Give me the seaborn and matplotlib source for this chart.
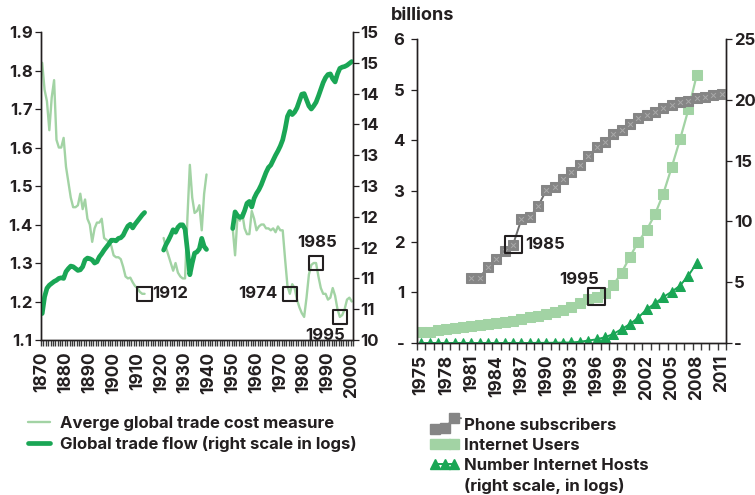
import numpy as np
import pandas as pd
import matplotlib
matplotlib.use("Agg")
import matplotlib.pyplot as plt
import seaborn as sns
from matplotlib.lines import Line2D
from matplotlib.legend_handler import HandlerLine2D

# ---------------- data: left panel (trade costs vs trade flow) ----------------
cost_1870 = [1.82, 1.75, 1.72, 1.645, 1.73, 1.775, 1.62, 1.60, 1.60, 1.625,
             1.55, 1.51, 1.47, 1.445, 1.445, 1.45, 1.48, 1.44, 1.465, 1.415,
             1.40, 1.355, 1.39, 1.405, 1.405, 1.415, 1.365, 1.36, 1.355, 1.345,
             1.32, 1.315, 1.315, 1.31, 1.29, 1.265, 1.26, 1.262, 1.25, 1.24,
             1.235, 1.225, 1.22, 1.22]                                   # 1870-1913
cost_1921 = [1.365, 1.34, 1.32, 1.30, 1.28, 1.30, 1.275, 1.265, 1.26, 1.26,
             1.42, 1.555, 1.47, 1.43, 1.435, 1.45, 1.385, 1.48, 1.53]    # 1921-1939
cost_1950 = [1.39, 1.32, 1.42, 1.41, 1.43, 1.39, 1.375, 1.375, 1.435, 1.415,
             1.385, 1.395, 1.40, 1.40, 1.39, 1.39, 1.385, 1.39, 1.38, 1.395,
             1.385, 1.385, 1.31, 1.24, 1.22, 1.245, 1.235, 1.205, 1.185, 1.17,
             1.16, 1.21, 1.27, 1.295, 1.30, 1.30, 1.265, 1.235, 1.22, 1.22,
             1.205, 1.21, 1.235, 1.215, 1.18, 1.16, 1.165, 1.18, 1.205, 1.21,
             1.20]                                                       # 1950-2000

flow_1870 = [10.43, 10.70, 10.84, 10.89, 10.92, 10.95, 10.97, 11.00, 11.01, 11.00,
             11.11, 11.16, 11.20, 11.19, 11.16, 11.13, 11.14, 11.19, 11.30, 11.33,
             11.32, 11.30, 11.25, 11.27, 11.35, 11.40, 11.46, 11.51, 11.56, 11.62,
             11.62, 11.61, 11.65, 11.66, 11.70, 11.78, 11.85, 11.88, 11.82, 11.88,
             11.93, 11.98, 12.03, 12.07]                                 # 1870-1913
flow_1921 = [11.46, 11.55, 11.62, 11.70, 11.79, 11.75, 11.83, 11.87, 11.87, 11.80,
             11.45, 11.06, 11.25, 11.41, 11.43, 11.48, 11.65, 11.52, 11.47]  # 1921-1939
flow_1950 = [11.81, 12.08, 12.02, 11.99, 12.00, 12.10, 12.22, 12.25, 12.16, 12.30,
             12.38, 12.44, 12.52, 12.62, 12.72, 12.80, 12.84, 12.92, 13.00, 13.07,
             13.15, 13.25, 13.42, 13.63, 13.71, 13.66, 13.70, 13.77, 13.88, 13.99,
             14.00, 13.90, 13.80, 13.75, 13.80, 13.86, 13.96, 14.07, 14.18, 14.26,
             14.31, 14.32, 14.24, 14.19, 14.32, 14.41, 14.43, 14.44, 14.46, 14.49,
             14.52]                                                      # 1950-2000

seg_starts = [1870, 1921, 1950]
left_marked = [1913, 1974, 1985, 1995]
left_marked_text = ["1912", "1974", "1985", "1995"]
flow_tick_labels = ["10", "11", "11", "12", "12", "13", "13", "14", "14", "15", "15"]

# ---------------- data: right panel (billions) ----------------
phone_start = 1981
phone = [1.276, 1.29, 1.505, 1.65, 1.82, 1.94, 2.44, 2.48, 2.70, 3.02,
         3.08, 3.23, 3.38, 3.51, 3.69, 3.86, 3.97, 4.12, 4.21, 4.33,
         4.44, 4.50, 4.56, 4.63, 4.69, 4.76, 4.78, 4.83, 4.86, 4.89, 4.92]   # 1981-2011
net_start = 1975
users = [0.22, 0.225, 0.256, 0.27, 0.30, 0.32, 0.34, 0.36, 0.38, 0.40,
         0.42, 0.44, 0.47, 0.51, 0.53, 0.57, 0.61, 0.65, 0.72, 0.795,
         0.86, 0.91, 0.99, 1.14, 1.39, 1.70, 2.00, 2.23, 2.54, 2.95,
         3.47, 4.02, 4.61, 5.29]                                         # 1975-2008
hosts = [0.0, 0.0, 0.0, 0.0, 0.0, 0.0, 0.0, 0.0, 0.0, 0.0,
         0.0, 0.0, 0.0, 0.0, 0.01, 0.01, 0.02, 0.03, 0.04, 0.10,
         0.20, 0.30, 0.47, 0.74, 1.14, 1.56, 2.09, 2.77, 3.26, 3.78,
         4.22, 4.72, 5.55, 6.58]                                         # 1975-2008
right_marked = [1986, 1996]
right_marked_text = ["1985", "1995"]

LIGHT = "#a2d3a4"
DARK = "#1aa655"
GREY = "#6e6e6e"
MARK = "#858585"
INK = "#231f20"
FONT = ["Inter", "DejaVu Sans"]

# ---------------- frames ----------------
rows = []
for start, c, f in zip(seg_starts, [cost_1870, cost_1921, cost_1950],
                       [flow_1870, flow_1921, flow_1950]):
    for i in range(len(c)):
        rows.append({"year": start + i, "seg": start, "cost": c[i], "flow": f[i]})
trade = pd.DataFrame(rows)

phone_df = pd.DataFrame({"year": np.arange(phone_start, phone_start + len(phone)), "v": phone})
net_df = pd.DataFrame({"year": np.arange(net_start, net_start + len(users)),
                       "users": users, "hosts": hosts})

sns.set_style("ticks")
plt.rcParams["font.family"] = FONT
plt.rcParams["font.weight"] = "bold"
plt.rcParams["text.color"] = INK
plt.rcParams["axes.edgecolor"] = INK
plt.rcParams["xtick.color"] = INK
plt.rcParams["ytick.color"] = INK

fig = plt.figure(figsize=(7.55, 4.95), dpi=100)


def style_axes(a, ar, years, step, tick_frac):
    # labels every `step` years, a short hatch mark for every year
    for ax in (a, ar):
        ax.set_xlabel("")
        ax.set_ylabel("")
        ax.spines["top"].set_visible(False)
        for s in ax.spines.values():
            s.set_linewidth(1.0)
    labelled = [y for y in years if (y - years[0]) % step == 0]
    a.set_xticks(labelled)
    a.set_xticklabels([str(y) for y in labelled])
    a.tick_params(axis="x", bottom=True, length=0, pad=8.5, labelsize=12.5, rotation=90)
    a.vlines(np.array(years) - 0.5, -tick_frac, 0, transform=a.get_xaxis_transform(),
             clip_on=False, color="#3a3a3a", lw=1.0, zorder=10)
    a.tick_params(axis="y", left=True, length=4, width=0.9, labelsize=12)
    ar.tick_params(axis="y", right=True, length=4, width=0.9, labelsize=12)
    ar.xaxis.set_visible(False)


# ---------------- left panel ----------------
ax1 = fig.add_axes([0.0543, 0.3131, 0.4132, 0.6222])
ax1r = ax1.twinx()
sns.lineplot(data=trade, x="year", y="cost", units="seg", estimator=None,
             color=LIGHT, lw=1.7, ax=ax1, legend=False)
sns.lineplot(data=trade, x="year", y="flow", units="seg", estimator=None,
             color=DARK, lw=3.4, ax=ax1r, legend=False)

cost_lookup = dict(zip(trade["year"], trade["cost"]))
box_df = pd.DataFrame({"year": left_marked, "v": [cost_lookup[y] for y in left_marked]})
sns.scatterplot(data=box_df, x="year", y="v", marker="s", s=110, facecolor="none",
                edgecolor=INK, linewidth=1.5, ax=ax1, zorder=5, legend=False)
offsets = [((8, 0), "left", "center"), ((-12, 0), "right", "center"),
           ((1, 13), "center", "bottom"), ((-15, -11), "center", "top")]
for yr, txt, (off, ha, va) in zip(left_marked, left_marked_text, offsets):
    ax1.annotate(txt, (yr, cost_lookup[yr]), xytext=off, textcoords="offset pixels",
                 ha=ha, va=va, fontsize=12, fontweight="bold", zorder=6)

ax1.set_xlim(1869.5, 2000.5)
ax1.set_ylim(1.1, 1.9)
ax1r.set_ylim(10, 15)
ax1.set_yticks(np.arange(1.1, 1.91, 0.1))
ax1.set_yticklabels([f"{v:.1f}" for v in np.arange(1.1, 1.91, 0.1)])
ax1r.set_yticks(np.arange(10, 15.01, 0.5))
ax1r.set_yticklabels(flow_tick_labels)
style_axes(ax1, ax1r, list(range(1870, 2002)), 10, 6 / 308)
ax1.tick_params(axis="y", pad=2)
ax1r.tick_params(axis="y", pad=1)

# ---------------- right panel ----------------
ax2 = fig.add_axes([0.5523, 0.3071, 0.4093, 0.6141])
ax2r = ax2.twinx()
sns.lineplot(data=phone_df, x="year", y="v", color=GREY, lw=1.4, marker="s", markersize=6.5,
             markerfacecolor=MARK, markeredgecolor=MARK, ax=ax2, zorder=3)
sns.scatterplot(data=phone_df, x="year", y="v", marker="x", s=12, color="#a9a9a9",
                linewidth=0.7, ax=ax2, zorder=4, legend=False)
sns.lineplot(data=net_df, x="year", y="users", color=LIGHT, lw=1.6, marker="s", markersize=7,
             markerfacecolor=LIGHT, markeredgecolor=LIGHT, ax=ax2, zorder=2)
sns.lineplot(data=net_df, x="year", y="hosts", color=DARK, lw=1.4, marker="^", markersize=6.5,
             markerfacecolor=DARK, markeredgecolor=DARK, ax=ax2r, zorder=2)

phone_lookup = dict(zip(phone_df["year"], phone_df["v"]))
users_lookup = dict(zip(net_df["year"], net_df["users"]))
rbox = pd.DataFrame({"year": right_marked,
                     "v": [phone_lookup[right_marked[0]], users_lookup[right_marked[1]]]})
sns.scatterplot(data=rbox, x="year", y="v", marker="s", s=150, facecolor="none",
                edgecolor=INK, linewidth=1.5, ax=ax2, zorder=6, legend=False)
ax2.annotate(right_marked_text[0], (right_marked[0], rbox["v"][0]), xytext=(12, 0),
             textcoords="offset pixels", ha="left", va="center", fontsize=12, fontweight="bold")
ax2.annotate(right_marked_text[1], (right_marked[1], rbox["v"][1]), xytext=(-17, 10),
             textcoords="offset pixels", ha="center", va="bottom", fontsize=12, fontweight="bold")

ax2.set_xlim(1974.5, 2011.5)
ax2.set_ylim(0, 6)
ax2r.set_ylim(0, 25)
ax2.set_yticks(range(0, 7))
ax2.set_yticklabels(["-"] + [str(i) for i in range(1, 7)])
ax2r.set_yticks(range(0, 26, 5))
ax2r.set_yticklabels(["-"] + [str(i) for i in range(5, 26, 5)])
style_axes(ax2, ax2r, list(range(1975, 2013)), 3, 7 / 304)
ax2.tick_params(axis="y", pad=5)
ax2r.tick_params(axis="y", pad=2)

fig.text(391 / 755, 1 - 20 / 495, "billions", fontsize=13, fontweight="bold", va="baseline")

# ---------------- legends ----------------
h_cost = Line2D([], [], color=LIGHT, lw=1.7)
h_flow = Line2D([], [], color=DARK, lw=3.4)
fig.legend([h_cost, h_flow],
           ["Averge global trade cost measure", "Global trade flow (right scale in logs)"],
           loc="upper left", bbox_to_anchor=(28 / 755, 1 - 416 / 495), frameon=False,
           fontsize=12, handlelength=1.32, handletextpad=0.6, labelspacing=0.3,
           borderpad=0, borderaxespad=0)


class RisingHandler(HandlerLine2D):
    # phone handle climbs to the right, like the series
    def create_artists(self, legend, orig_handle, xdescent, ydescent, width, height,
                       fontsize, trans):
        arts = super().create_artists(legend, orig_handle, xdescent, ydescent, width,
                                      height, fontsize, trans)
        for a in arts:
            x = np.asarray(a.get_xdata(), dtype=float)
            y = np.asarray(a.get_ydata(), dtype=float)
            a.set_data(np.append(x, x[-1] + 5), np.append(y + np.array([-3.5, -3.0, 4.5]), 8.5))
            a.set_markevery([0, 1, 2])
        return arts


h_phone = Line2D([], [], color=GREY, lw=1.3, marker="s", markersize=6.5,
                 markerfacecolor=MARK, markeredgecolor=MARK)
h_users = Line2D([], [], color=LIGHT, lw=1.6, marker="s", markersize=7)
h_hosts = Line2D([], [], color=DARK, lw=1.4, marker="^", markersize=6.5)
h_blank = Line2D([], [], lw=0)
fig.legend([h_phone, h_users, h_hosts, h_blank],
           ["Phone subscribers", "Internet Users", "Number Internet Hosts",
            "(right scale, in logs)"],
           loc="upper left", bbox_to_anchor=(430 / 755, 1 - 418 / 495), frameon=False,
           fontsize=12, numpoints=3, handlelength=1.75, handletextpad=0.3, labelspacing=0.3,
           borderpad=0, borderaxespad=0,
           handler_map={h_phone: RisingHandler(numpoints=3)})

fig.savefig("out.png", dpi=100)
